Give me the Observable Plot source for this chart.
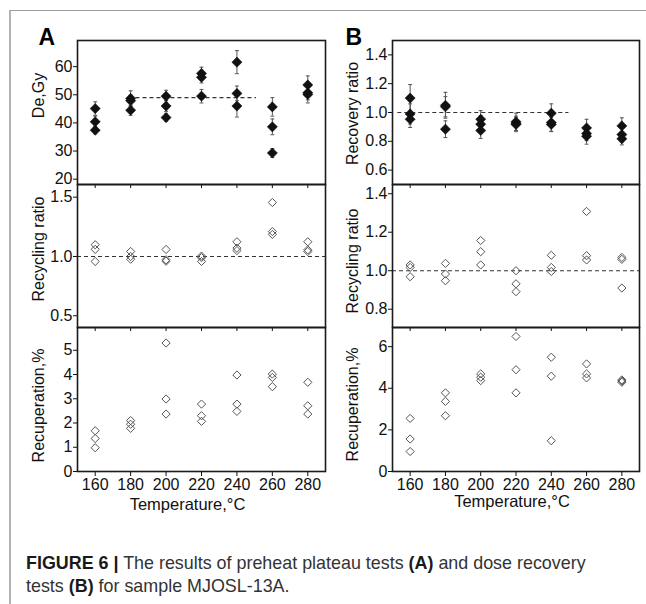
<!DOCTYPE html>
<html><head><meta charset="utf-8">
<script src="https://cdn.jsdelivr.net/npm/d3@7"></script>
<script src="https://cdn.jsdelivr.net/npm/@observablehq/plot@0.6"></script>
<style>
body{margin:0;background:#fff;font-family:"Liberation Sans",Arial,sans-serif;}
#page{position:relative;width:646px;height:604px;overflow:hidden;}
#border{position:absolute;left:9px;top:10px;width:650px;height:600px;border-top:1.5px solid #9c9c9c;border-left:2px solid #b4b4b4;}
#charts{position:absolute;left:0;top:0;width:646px;height:530px;}
#charts svg{position:absolute;left:0;top:0;}
#caption{position:absolute;left:26px;top:552px;font-size:17.9px;line-height:23px;color:#333;white-space:nowrap;}
#caption b{color:#1a1a1a;}
</style>
</head><body>
<div id="page">
  <div id="border"></div>
  <div id="charts"></div>
  <div id="caption"><b>FIGURE 6 |</b> The results of preheat plateau tests <b>(A)</b> and dose recovery<br>tests <b>(B)</b> for sample MJOSL-13A.</div>
</div>
<script>
// ---------- data ----------
const temps = [160, 180, 200, 220, 240, 260, 280];

// A: preheat plateau – equivalent dose De (Gy) with errors
const deT   = [160,160,160, 180,180,180, 200,200,200, 220,220,220, 240,240,240, 260,260,260, 280,280,280];
const deV   = [45.1,40.4,37.4, 48.7,47.9,44.5, 49.5,46.0,41.9, 57.6,56.2,49.5, 61.6,50.5,46.0, 45.7,38.6,29.3, 53.5,50.7,50.1];
const deE   = [2.4,2.0,1.3, 2.7,2.0,1.8, 2.1,2.0,1.3, 2.2,2.0,2.4, 4.1,2.6,3.9, 3.3,2.8,1.6, 3.2,2.5,3.0];
const deMean = 49;
const deMeanRange = [183, 251];

// A: recycling ratio
const recA_T = [160,160,160, 180,180,180, 200,200,200, 220,220,220, 240,240,240, 260,260,260, 280,280,280];
const recA_V = [1.099,1.060,0.958, 1.042,1.000,0.977, 1.059,0.972,0.960, 1.003,0.990,0.958, 1.124,1.070,1.050, 1.455,1.210,1.186, 1.124,1.056,1.042];

// A: recuperation (%)
const cupA_T = [160,160,160, 180,180,180, 200,200,200, 220,220,220, 240,240,240, 260,260,260, 280,280,280];
const cupA_V = [1.68,1.36,0.98, 2.10,1.95,1.78, 5.30,2.99,2.37, 2.78,2.30,2.07, 3.98,2.78,2.48, 4.02,3.88,3.50, 3.68,2.71,2.37];

// B: dose recovery ratio with errors
const drT = [160,160,160, 180,180,180, 200,200,200, 220,220,220, 240,240,240, 260,260,260, 280,280,280];
const drV = [1.100,0.990,0.953, 1.050,1.040,0.884, 0.953,0.919,0.875, 0.935,0.925,0.917, 0.995,0.930,0.917, 0.893,0.854,0.835, 0.907,0.847,0.817];
const drE = [0.094,0.070,0.057, 0.090,0.070,0.058, 0.060,0.060,0.055, 0.060,0.050,0.050, 0.065,0.060,0.050, 0.060,0.050,0.055, 0.056,0.050,0.042];
const drMean = 1.0;
const drMeanRange = [153, 250];

// B: recycling ratio
const recB_T = [160,160,160, 180,180,180, 200,200,200, 220,220,220, 240,240,240, 260,260,260, 280,280,280];
const recB_V = [1.030,1.017,0.969, 1.038,0.983,0.948, 1.157,1.099,1.030, 1.000,0.932,0.891, 1.080,1.017,0.996, 1.308,1.078,1.056, 1.069,1.059,0.910];

// B: recuperation (%)
const cupB_T = [160,160,160, 180,180,180, 200,200,200, 220,220,220, 240,240,240, 260,260,260, 280,280,280];
const cupB_V = [2.55,1.56,0.96, 3.78,3.37,2.68, 4.69,4.53,4.37, 6.49,4.89,3.78, 5.49,4.58,1.48, 5.17,4.69,4.50, 4.40,4.35,4.29];

// ---------- helpers ----------
const zip2 = (T, V) => T.map((t, i) => ({t, v: V[i]}));
const zip3 = (T, V, E) => T.map((t, i) => ({t, v: V[i], e: E[i]}));

const W = 646, H = 530;
const font = "Liberation Sans, Arial, sans-serif";

function filledMarks(data) {
  return [
    Plot.ruleX(data, {x: "t", y1: d => d.v - d.e, y2: d => d.v + d.e, stroke: "#555", strokeWidth: 1}),
    Plot.link(data, {x1: d => d.t - 1.1, x2: d => d.t + 1.1, y1: d => d.v + d.e, y2: d => d.v + d.e, stroke: "#555", strokeWidth: 1}),
    Plot.link(data, {x1: d => d.t - 1.1, x2: d => d.t + 1.1, y1: d => d.v - d.e, y2: d => d.v - d.e, stroke: "#555", strokeWidth: 1}),
    Plot.dot(data, {x: "t", y: "v", symbol: "diamond2", r: 4.6, fill: "#111", stroke: "#111", strokeWidth: 0.5})
  ];
}
function hollowMarks(data) {
  return [Plot.dot(data, {x: "t", y: "v", symbol: "diamond2", r: 3.7, fill: "none", stroke: "#555", strokeWidth: 1})];
}

function panel(o) {
  const marks = [
    ...o.marks,
    Plot.frame({stroke: "#1a1a1a", strokeWidth: 1.6}),
    Plot.axisY({ticks: o.yTicks, tickSize: 4, tickPadding: 1, tickFormat: o.yFormat, label: null, fontSize: 16}),
    o.bottom
      ? Plot.axisX({ticks: temps, tickSize: 5, tickPadding: 2, tickFormat: d => String(d), label: null, fontSize: 16})
      : Plot.axisX({ticks: temps, tickSize: 4, tickFormat: () => "", label: null}),
    Plot.text([o.yLabel], {frameAnchor: "left", textAnchor: "middle", lineAnchor: "middle", rotate: -90, dx: o.yLabelDx, dy: o.yLabelDy, fontSize: 16, fill: "#111"})
  ];
  if (o.bottom) marks.push(Plot.text(["Temperature,°C"], {frameAnchor: "bottom", textAnchor: "middle", dx: o.xLabelDx, dy: o.xLabelDy, fontSize: 16.5, fill: "#111"}));
  if (o.letter) marks.push(Plot.text([o.letter], {frameAnchor: "top-left", textAnchor: "start", lineAnchor: "top", dx: o.letterDx, dy: -12, fontSize: 23, fontWeight: "bold", fill: "#000"}));
  const svg = Plot.plot({
    width: W, height: H,
    marginLeft: o.x0, marginRight: W - o.x1, marginTop: o.y0, marginBottom: H - o.y1,
    x: {domain: [150, 290]},
    y: {domain: o.yDomain},
    style: {fontFamily: font, fontSize: "16px", color: "#111", background: "transparent", overflow: "visible"},
    marks
  });
  document.getElementById("charts").appendChild(svg);
}

const AX = [77, 325], BX = [392, 639];
const R1 = [40, 184], R2 = [184, 327], R3 = [327, 471];
const f1 = d3.format(".1f");

// Panel A
panel({x0: AX[0], x1: AX[1], y0: R1[0], y1: R1[1], yDomain: [18.1, 69.3], yTicks: [20, 30, 40, 50, 60], yFormat: d => String(d),
  yLabel: "De,Gy", yLabelDx: -39, yLabelDy: -17, letter: "A", letterDx: -39,
  marks: [Plot.ruleY([deMean], {x1: deMeanRange[0], x2: deMeanRange[1], stroke: "#333", strokeWidth: 1.1, strokeDasharray: "4,3"}), ...filledMarks(zip3(deT, deV, deE))]});
panel({x0: AX[0], x1: AX[1], y0: R2[0], y1: R2[1], yDomain: [0.401, 1.607], yTicks: [0.5, 1.0, 1.5], yFormat: f1,
  yLabel: "Recycling ratio", yLabelDx: -39, yLabelDy: -7,
  marks: [Plot.ruleY([1.0], {stroke: "#333", strokeWidth: 1.1, strokeDasharray: "4,3"}), ...hollowMarks(zip2(recA_T, recA_V))]});
panel({x0: AX[0], x1: AX[1], y0: R3[0], y1: R3[1], yDomain: [0, 5.94], yTicks: [0, 1, 2, 3, 4, 5], yFormat: d => String(d),
  yLabel: "Recuperation,%", yLabelDx: -39, yLabelDy: 6, bottom: true, xLabelDx: -14, xLabelDy: 38,
  marks: hollowMarks(zip2(cupA_T, cupA_V))});

// Panel B
panel({x0: BX[0], x1: BX[1], y0: R1[0], y1: R1[1], yDomain: [0.5, 1.5], yTicks: [0.6, 0.8, 1.0, 1.2, 1.4], yFormat: f1,
  yLabel: "Recovery ratio", yLabelDx: -40, yLabelDy: 1, letter: "B", letterDx: -47,
  marks: [Plot.ruleY([drMean], {x1: drMeanRange[0], x2: drMeanRange[1], stroke: "#333", strokeWidth: 1.1, strokeDasharray: "4,3"}), ...filledMarks(zip3(drT, drV, drE))]});
panel({x0: BX[0], x1: BX[1], y0: R2[0], y1: R2[1], yDomain: [0.705, 1.448], yTicks: [0.8, 1.0, 1.2, 1.4], yFormat: f1,
  yLabel: "Recycling ratio", yLabelDx: -40, yLabelDy: 5,
  marks: [Plot.ruleY([1.0], {stroke: "#333", strokeWidth: 1.1, strokeDasharray: "4,3"}), ...hollowMarks(zip2(recB_T, recB_V))]});
panel({x0: BX[0], x1: BX[1], y0: R3[0], y1: R3[1], yDomain: [0, 6.92], yTicks: [0, 2, 4, 6], yFormat: d => String(d),
  yLabel: "Recuperation,%", yLabelDx: -40, yLabelDy: 5, bottom: true, xLabelDx: -4, xLabelDy: 35,
  marks: hollowMarks(zip2(cupB_T, cupB_V))});
</script>
</body></html>
